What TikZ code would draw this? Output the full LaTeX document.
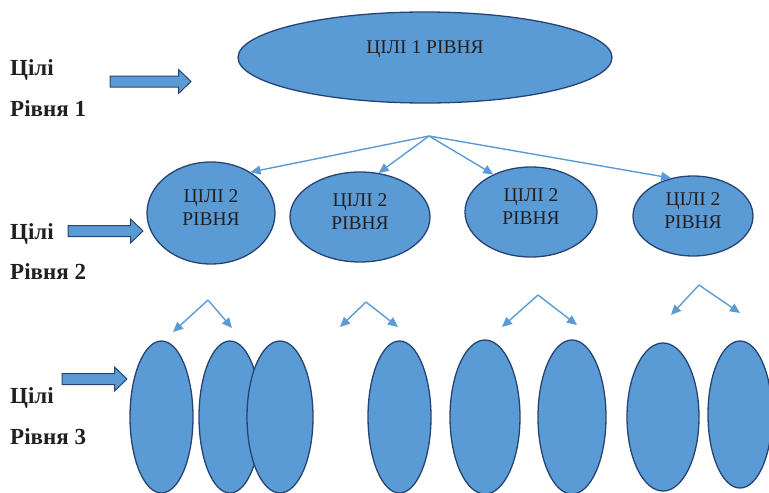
\documentclass[tikz,border=0pt]{standalone}
\usepackage{fontspec}
\setmainfont{Liberation Serif}
\usetikzlibrary{arrows.meta,positioning,shapes.geometric}
\definecolor{goalfill}{RGB}{91,155,213}
\definecolor{goalline}{RGB}{38,68,115}
\definecolor{textdark}{RGB}{35,31,32}
\tikzset{
  goal/.style={ellipse,draw=goalline,fill=goalfill,line width=1.3pt,inner sep=0pt},
  fan/.style={draw=goalfill,line width=1.4pt,-{Triangle[length=10pt,width=9pt]}},
  levellabel/.style={anchor=base west,inner sep=0pt,text=textdark,
    font=\fontsize{23}{27}\selectfont\bfseries},
  goaltext/.style={align=center,inner sep=0pt,text=textdark,
    font=\fontsize{19.5}{23}\selectfont}
}
% block arrow: x start, x end, y middle
\newcommand\levelarrow[3]{%
  \draw[goalline,fill=goalfill,line width=1pt]
    (#1,#3-5.5) -- (#2-12.5,#3-5.5) -- (#2-12.5,#3-12) -- (#2,#3)
    -- (#2-12.5,#3+12) -- (#2-12.5,#3+5.5) -- (#1,#3+5.5) -- cycle;}

\begin{document}
\begin{tikzpicture}[x=1pt,y=-1pt]
\useasboundingbox (0,0) rectangle (769,493);
\clip (0,0) rectangle (769,493);

% level labels
\node[levellabel] (t1a) at (10,75) {Цілі};
\node[levellabel] (t1b) at (10,116) {Рівня 1};
\node[levellabel] (t2a) at (10,239) {Цілі};
\node[levellabel] (t2b) at (10,279) {Рівня 2};
\node[levellabel] (t3a) at (10,403) {Цілі};
\node[levellabel] (t3b) at (10,444) {Рівня 3};
\levelarrow{110}{191}{81.5}
\levelarrow{68}{143}{231}
\levelarrow{62}{127}{379}

% level 1
\node[goal,minimum width=374pt,minimum height=91pt] (top) at (425,57.5) {};
\node[goaltext] (toptext) at ([yshift=8pt]top.center) {ЦІЛІ 1 РІВНЯ};

% level 2
\foreach \name/\x/\y/\w/\h in {a/211/213/128/102,b/360/217/140/90,
                              c/531/212/132/90,d/693/216/120/80}{
  \node[goal,minimum width=\w pt,minimum height=\h pt] (l2\name) at (\x,\y) {};
  \node[goaltext] (l2\name text) at ([yshift=5.5pt]l2\name.center) {ЦІЛІ 2\\РІВНЯ};
}
\coordinate (fan1) at (429,136);
\draw[fan] (fan1) -- (l2a.46);
\draw[fan] (fan1) -- (l2b.67);
\draw[fan] (fan1) -- (l2c.135);
\draw[fan] (fan1) -- (l2d.120);

% level 3
\foreach \name/\x/\y/\w/\h in {a/161.5/417/63/152,b/230/417/62/152,
                              c/280/417/66/152,d/399.5/417/63/152,
                              e/485/417/70/154,f/572/417/68/154,
                              g/663/417/72/148,h/740/414.5/64/147}{
  \node[goal,minimum width=\w pt,minimum height=\h pt] (l3\name) at (\x,\y) {};
}
\foreach \n/\ax/\ay/\lx/\ly/\rx/\ry in {1/208/300/173/332/232/328,
    2/366/302/340/327/398/327,3/538/295/502/327/577/325,
    4/699/285/671/315/740/313}{
  \coordinate (apex\n) at (\ax,\ay);
  \coordinate (left\n) at (\lx,\ly);
  \coordinate (right\n) at (\rx,\ry);
  \draw[fan] (apex\n) -- (left\n);
  \draw[fan] (apex\n) -- (right\n);
}
\end{tikzpicture}
\end{document}
